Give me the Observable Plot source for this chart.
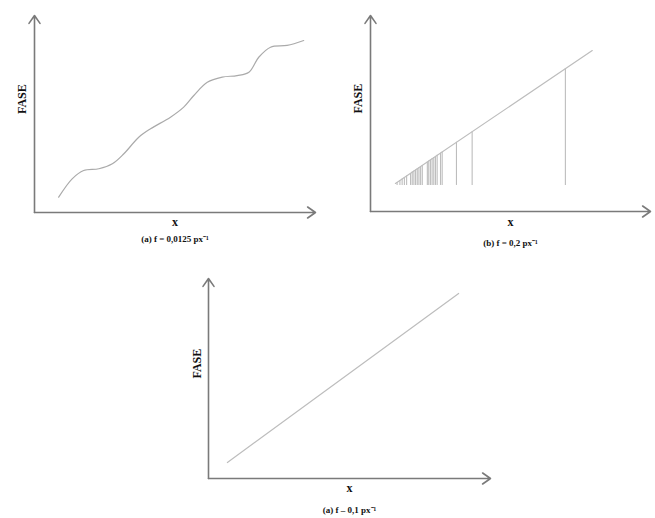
<!DOCTYPE html>
<html>
<head>
<meta charset="utf-8">
<script src="https://cdn.jsdelivr.net/npm/d3@7"></script>
<script src="https://cdn.jsdelivr.net/npm/@observablehq/plot@0.6"></script>
<style>
  html, body { margin: 0; padding: 0; background: #fff; }
  #wrap { position: relative; width: 655px; height: 518px; overflow: hidden; background: #fff; }
  .panel { position: absolute; }
</style>
</head>
<body>
<div id="wrap">
  <div class="panel" id="pa" style="left:0px;top:0px"></div>
  <div class="panel" id="pb" style="left:330px;top:0px"></div>
  <div class="panel" id="pc" style="left:170px;top:258px"></div>
</div>
<script>
// ---- Data (arbitrary units 0..100) ----
const yLabel = "FASE";
const xLabel = "x";
const captions = ["(a) f = 0,0125 px⁻¹", "(b) f = 0,2 px⁻¹", "(a) f – 0,1 px⁻¹"];

// Panel (a): wavy phase curve
const aX = [8.6, 13.4, 17.5, 22.9, 27.7, 31.8, 37.1, 41.3, 48.4, 53.1, 56.7, 61.5, 66.8, 72.1, 76.3, 79.8, 84.0, 89.9, 95.8];
const aY = [7.8, 17.1, 21.3, 22.2, 24.7, 29.8, 38.2, 42.5, 48.4, 53.5, 59.4, 66.1, 68.7, 69.5, 71.2, 78.8, 83.9, 84.8, 87.3];

// Panel (b): straight phase line with vertical spikes
const bLineX = [8.9, 79.2];
const bLineY = [14.3, 82.1];
const bSpikeX = [9.5, 10.5, 11.3, 12.1, 12.9, 14.3, 14.9, 15.5, 16.1, 16.7, 17.3, 17.9, 18.5, 20.3, 20.8, 21.4, 22.0, 22.6, 23.2, 23.8, 25.0, 25.6, 30.7, 36.3, 69.6];
const bSpikeTop = [14.8, 15.8, 16.6, 17.4, 18.1, 19.4, 20.1, 20.6, 21.2, 21.8, 22.3, 22.9, 23.5, 25.2, 25.8, 26.4, 27.0, 27.5, 28.1, 28.7, 29.8, 30.4, 35.3, 40.7, 72.9];
const bSpikeBase = 13.3;

// Panel (c): straight phase line
const cLineX = [6.7, 88.7];
const cLineY = [8.0, 92.5];

// ---- Drawing ----
const axisColor = "#7a7a7a";
const lineColor = "#bdbdbd";
const font = "'Liberation Serif', 'Times New Roman', serif";

function panel({width, height, ml, mr, mt, mb, marks, caption, xdy, cdy, fdx}) {
  return Plot.plot({
    width, height,
    marginLeft: ml, marginRight: mr, marginTop: mt, marginBottom: mb,
    x: {domain: [0, 100], axis: null},
    y: {domain: [0, 100], axis: null},
    style: {background: "#fff", fontFamily: font, overflow: "visible"},
    marks: [
      ...marks,
      Plot.arrow([0], {x1: 0, y1: 0, x2: 100, y2: 0, stroke: axisColor, strokeWidth: 1.6, headLength: 9, headAngle: 70, bend: 0}),
      Plot.arrow([0], {x1: 0, y1: 0, x2: 0, y2: 100, stroke: axisColor, strokeWidth: 1.6, headLength: 9, headAngle: 70, bend: 0}),
      Plot.text([xLabel], {text: d => d, frameAnchor: "bottom", dy: xdy, fontSize: 12, fontWeight: "bold", fill: "#111", lineAnchor: "middle"}),
      Plot.text([caption], {text: d => d, frameAnchor: "bottom", dy: cdy, fontSize: 9, fontWeight: "bold", fill: "#111", lineAnchor: "middle"}),
      Plot.text([yLabel], {text: d => d, frameAnchor: "left", dx: fdx, rotate: -90, fontSize: 12, fontWeight: "bold", fill: "#111", lineAnchor: "middle"})
    ]
  });
}

const aData = aX.map((x, i) => ({x, y: aY[i]}));
const bLine = bLineX.map((x, i) => ({x, y: bLineY[i]}));
const bSpikes = bSpikeX.map((x, i) => ({x, top: bSpikeTop[i], base: bSpikeBase}));
const cLine = cLineX.map((x, i) => ({x, y: cLineY[i]}));

document.getElementById("pa").append(panel({
  width: 330, height: 255, ml: 34, mr: 15, mt: 15, mb: 43,
  caption: captions[0], xdy: 10, cdy: 27, fdx: -12,
  marks: [Plot.line(aData, {x: "x", y: "y", stroke: "#aaaaaa", strokeWidth: 1.2, curve: "catmull-rom"})]
}));

document.getElementById("pb").append(panel({
  width: 325, height: 255, ml: 40, mr: 5, mt: 15, mb: 44,
  caption: captions[1], xdy: 11, cdy: 32, fdx: -12,
  marks: [
    Plot.ruleX(bSpikes, {x: "x", y1: "base", y2: "top", stroke: lineColor, strokeWidth: 1.1}),
    Plot.line(bLine, {x: "x", y: "y", stroke: lineColor, strokeWidth: 1.2})
  ]
}));

document.getElementById("pc").append(panel({
  width: 325, height: 260, ml: 38, mr: 5, mt: 20, mb: 40,
  caption: captions[2], xdy: 10, cdy: 32, fdx: -11,
  marks: [Plot.line(cLine, {x: "x", y: "y", stroke: lineColor, strokeWidth: 1.2})]
}));
</script>
</body>
</html>
